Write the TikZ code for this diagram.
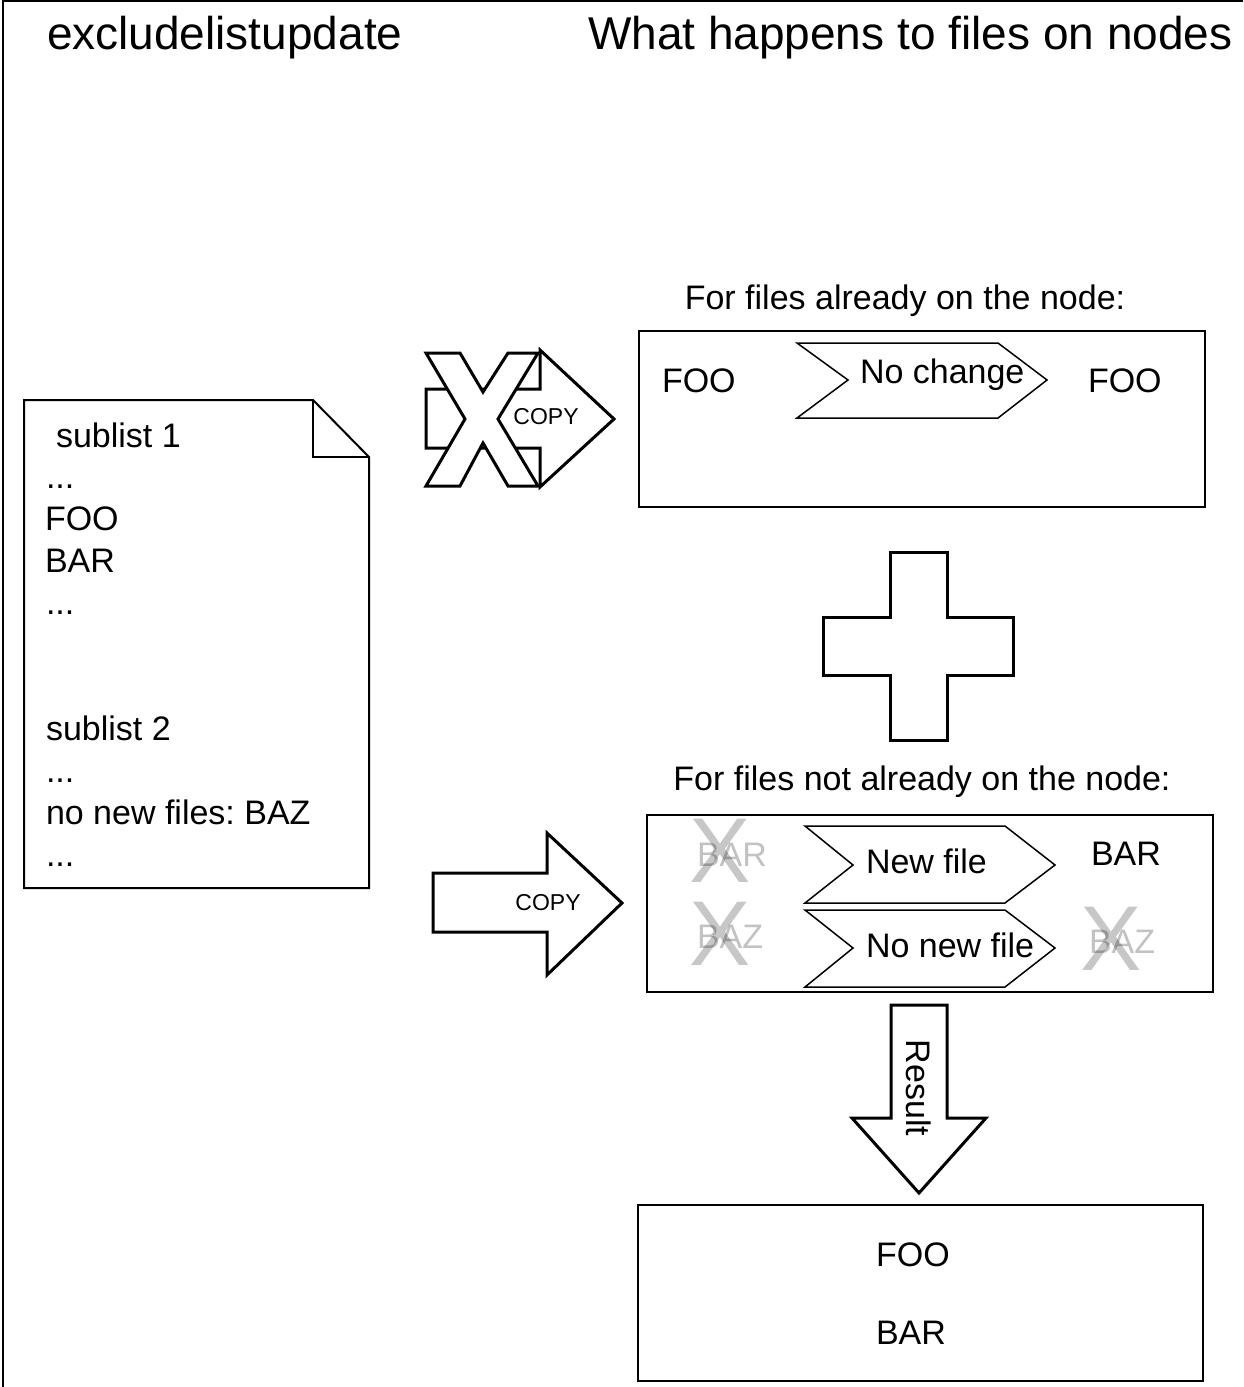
\documentclass[tikz,border=0pt]{standalone}
\usepackage{fontspec}
\setmainfont{Liberation Sans}
\frenchspacing
\tikzset{
  bodytxt/.style={font=\fontsize{34}{40}\selectfont, inner sep=0pt, outer sep=0pt},
  titletxt/.style={font=\fontsize{46}{54}\selectfont, inner sep=0pt, outer sep=0pt},
  smalltxt/.style={font=\fontsize{23}{28}\selectfont, inner sep=0pt, outer sep=0pt},
  bigx/.style={font=\fontsize{92}{100}\selectfont, inner sep=0pt, outer sep=0pt, text=black, text opacity=0.22},
  ghost/.style={bodytxt, text=black, text opacity=0.24},
  panel/.style={draw, line width=2.5pt, fill=white, inner sep=0pt, outer sep=0pt},
  shapeline/.style={draw, line width=3pt, fill=white, line join=miter},
  chev/.style={draw, line width=1.5pt, fill=white, line join=miter},
  docline/.style={draw, line width=2pt, line join=miter},
}
\begin{document}
\begin{tikzpicture}[x=1pt,y=-1pt]
\useasboundingbox (0,0) rectangle (1243,1387);
% frame
\draw[line width=1.2pt] (3,1387) -- (3,1) -- (1243,1);

% titles
\node[titletxt, anchor=base west] (ttl1) at (47,49) {excludelistupdate};
\node[titletxt, anchor=base west] (ttl2) at (588,49) {What happens to files on nodes};

% document with folded corner
\draw[docline, fill=white] (24,400) -- (313,400) -- (369,457) -- (369,888) -- (24,888) -- cycle;
\draw[docline] (313,400) -- (313,457) -- (369,457);
\node[bodytxt, anchor=base west] (d1) at (56,447) {sublist 1};
\node[bodytxt, anchor=base west] (d2) at (46,488) {...};
\node[bodytxt, anchor=base west] (d3) at (45,530) {FOO};
\node[bodytxt, anchor=base west] (d4) at (45,572) {BAR};
\node[bodytxt, anchor=base west] (d5) at (46,614) {...};
\node[bodytxt, anchor=base west] (d6) at (46,740) {sublist 2};
\node[bodytxt, anchor=base west] (d7) at (46,782) {...};
\node[bodytxt, anchor=base west] (d8) at (46,824) {no new files: BAZ};
\node[bodytxt, anchor=base west] (d9) at (46,866) {...};

% crossed-out copy arrow
\draw[shapeline] (426,389) -- (540,389) -- (540,350) -- (614,419) -- (540,487) -- (540,448) -- (426,448) -- cycle;
\draw[shapeline] (426,353) -- (460,353) -- (483,392) -- (508,353) -- (538,353) -- (498,419) -- (538,486) -- (508,486) -- (483,443) -- (460,486) -- (426,486) -- (465,419) -- cycle;
\node[smalltxt] (copy1) at (546,417) {COPY};

% top panel
\node[bodytxt, anchor=base] (lbl1) at (905,309) {For files already on the node:};
\node[panel, minimum width=566pt, minimum height=176pt] (box1) at (922,419) {};
\node[bodytxt, anchor=base west] (foo1) at (662,392) {FOO};
\draw[chev] (797,343) -- (998,343) -- (1047,380) -- (998,418) -- (797,418) -- (848,380) -- cycle;
\node[bodytxt, anchor=base west] (nochange) at (860,383) {No change};
\node[bodytxt, anchor=base west] (foo2) at (1088,392) {FOO};

% plus
\draw[shapeline] (890,552) -- (947,552) -- (947,617) -- (1013,617) -- (1013,675) -- (947,675) -- (947,740) -- (890,740) -- (890,675) -- (823,675) -- (823,617) -- (890,617) -- cycle;

% lower panel
\node[bodytxt, anchor=base] (lbl2) at (922,790) {For files not already on the node:};
\node[panel, minimum width=566pt, minimum height=177pt] (box2) at (930,903.5) {};
\draw[chev] (805,826) -- (1005,826) -- (1055,865) -- (1005,903) -- (805,903) -- (853,865) -- cycle;
\draw[chev] (805,910) -- (1005,910) -- (1055,948) -- (1005,987) -- (805,987) -- (853,948) -- cycle;
\node[bodytxt, anchor=base west] (newfile) at (866,873) {New file};
\node[bodytxt, anchor=base west] (nonewfile) at (866,957) {No new file};
\node[ghost, anchor=base west] (gbar) at (697,866) {BAR};
\node[ghost, anchor=base west] (gbaz1) at (697,948) {BAZ};
\node[ghost, anchor=base west] (gbaz2) at (1089,953) {BAZ};
\node[bigx, anchor=base] (x1) at (720,882) {X};
\node[bigx, anchor=base] (x2) at (720,965) {X};
\node[bigx, anchor=base] (x3) at (1111,970) {X};
\node[bodytxt, anchor=base west] (bar2) at (1091,865) {BAR};

% copy arrow
\draw[shapeline] (433,873) -- (547,873) -- (547,833) -- (622,903) -- (547,975) -- (547,932) -- (433,932) -- cycle;
\node[smalltxt] (copy2) at (548,903) {COPY};

% result arrow
\draw[shapeline] (891,1005) -- (947,1005) -- (947,1118) -- (986,1118) -- (919,1193) -- (852,1118) -- (891,1118) -- cycle;
\node[bodytxt, rotate=-90] (result) at (919,1088) {Result};

% result panel
\node[panel, minimum width=565pt, minimum height=176pt] (box3) at (920.5,1293) {};
\node[bodytxt, anchor=base] (foo3) at (913,1266) {FOO};
\node[bodytxt, anchor=base] (bar3) at (911,1344) {BAR};
\end{tikzpicture}
\end{document}
